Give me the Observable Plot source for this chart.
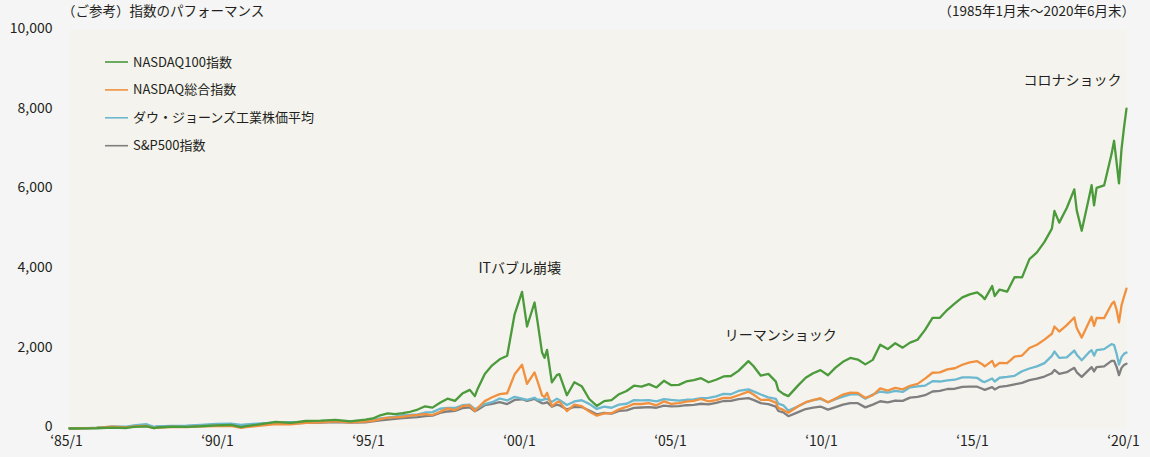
<!DOCTYPE html>
<html><head><meta charset="utf-8">
<script src="https://cdn.jsdelivr.net/npm/d3@7"></script>
<script src="https://cdn.jsdelivr.net/npm/@observablehq/plot@0.6"></script>
<style>
html,body{margin:0;padding:0;background:#f5f5f5;}
#chart{width:1150px;height:457px;}
svg{font-family:"Noto Sans CJK JP","Noto Sans",sans-serif;}
</style></head><body><div id="chart"></div>
<script>
const dates = ["1985-01","1985-06","1985-12","1986-06","1986-12","1987-03","1987-08","1987-11","1987-12","1988-06",
"1988-12","1989-06","1989-12","1990-06","1990-10","1990-12","1991-06","1991-12","1992-06","1992-12",
"1993-06","1993-12","1994-06","1994-12","1995-03","1995-06","1995-09","1995-12","1996-03","1996-06",
"1996-09","1996-12","1997-03","1997-06","1997-09","1997-12","1998-03","1998-06","1998-08","1998-09",
"1998-12","1999-03","1999-06","1999-09","1999-12","2000-03","2000-05","2000-08","2000-09","2000-11",
"2000-12","2001-01","2001-03","2001-05","2001-06","2001-09","2001-12","2002-03","2002-06","2002-09",
"2002-12","2003-03","2003-06","2003-09","2003-12","2004-03","2004-06","2004-09","2004-12","2005-03",
"2005-06","2005-09","2005-12","2006-03","2006-06","2006-09","2006-12","2007-03","2007-06","2007-10",
"2007-12","2008-03","2008-06","2008-09","2008-10","2008-12","2009-02","2009-06","2009-09","2009-12",
"2010-03","2010-06","2010-09","2010-12","2011-03","2011-06","2011-09","2011-12","2012-03","2012-06",
"2012-09","2012-12","2013-03","2013-06","2013-09","2013-12","2014-03","2014-06","2014-09","2014-12",
"2015-03","2015-06","2015-08","2015-09","2015-12","2016-01","2016-03","2016-06","2016-09","2016-12",
"2017-03","2017-06","2017-09","2017-12","2018-01","2018-03","2018-06","2018-09","2018-10","2018-12",
"2019-03","2019-04","2019-05","2019-06","2019-09","2019-12","2020-01","2020-02","2020-03","2020-04",
"2020-05","2020-06"];

const nasdaq100 = [0,3,6,20,13,40,52,12,25,44,
42,56,79,88,36,60,108,165,140,188,
196,219,180,223,252,332,380,361,388,420,
476,557,524,644,748,693,876,970,812,976,
1369,1585,1737,1826,2866,3430,2559,3162,2756,1905,
1773,1974,1158,1340,1364,834,1162,1062,741,566,
687,714,861,942,1074,1051,1113,1030,1197,1086,
1094,1181,1216,1262,1160,1223,1306,1318,1447,1691,
1568,1325,1370,1176,963,870,812,1082,1274,1388,
1466,1335,1528,1674,1770,1730,1609,1722,2104,1993,
2139,2029,2154,2228,2474,2774,2777,2979,3140,3289,
3367,3418,3319,3246,3574,3324,3487,3434,3800,3791,
4249,4418,4683,5017,5460,5166,5532,6002,5474,4963,
5802,6106,5602,6037,6100,6886,7220,6670,6150,7012,
7544,8026];

const nasdaqComp = [0,6,17,46,25,54,63,9,19,42,
37,56,63,66,18,34,70,110,102,143,
153,179,153,170,193,235,275,277,295,325,
340,363,338,417,505,463,559,580,438,508,
687,783,864,885,1360,1600,1120,1409,1218,832,
787,895,560,657,675,438,600,562,425,321,
379,381,482,541,619,615,635,581,680,617,
638,672,691,740,679,710,767,769,834,926,
852,718,723,651,518,466,394,558,661,714,
760,657,750,852,898,895,767,835,1009,953,
1018,984,1073,1121,1253,1399,1407,1482,1512,1599,
1659,1689,1614,1558,1697,1556,1647,1638,1806,1831,
2021,2103,2231,2377,2559,2434,2595,2787,2521,2281,
2673,2805,2574,2773,2770,3120,3183,2974,2663,3090,
3305,3509];

const dowJones = [0,4,20,47,47,79,107,43,51,66,
69,90,114,124,90,105,126,146,158,157,
173,192,182,198,223,254,272,298,334,339,
357,401,412,496,517,515,584,596,486,510,
613,661,753,703,793,749,718,772,728,709,
738,746,668,748,716,588,679,709,618,490,
548,521,598,621,712,705,711,683,738,716,
699,721,733,763,767,808,869,860,942,983,
931,853,782,743,625,582,449,556,655,710,
744,660,738,800,857,865,748,850,927,901,
944,918,1033,1059,1076,1188,1179,1208,1224,1285,
1281,1269,1184,1166,1254,1180,1274,1293,1323,1436,
1506,1559,1641,1821,1932,1773,1786,1956,1852,1713,
1915,1967,1828,1967,1992,2118,2096,1875,1603,1792,
1873,1906];

const sp500 = [0,7,18,40,35,62,84,28,38,52,
55,77,97,99,69,84,107,132,127,143,
151,160,147,156,179,203,225,243,259,273,
283,312,321,393,427,440,513,531,433,466,
584,616,664,614,718,734,691,745,700,632,
635,660,546,599,582,479,539,539,451,354,
390,372,443,454,519,527,535,521,575,557,
563,584,595,621,607,644,690,691,737,763,
717,636,613,549,439,403,309,412,488,521,
551,474,535,600,638,635,530,600,684,658,
702,694,774,794,836,929,942,991,998,1046,
1051,1049,998,969,1038,980,1047,1068,1107,1146,
1215,1249,1303,1388,1472,1370,1413,1522,1410,1296,
1478,1540,1432,1538,1557,1699,1696,1545,1339,1521,
1595,1626];

const seriesNames = ["NASDAQ100指数","NASDAQ総合指数","ダウ・ジョーンズ工業株価平均","S&P500指数"];
const seriesColors = ["#4b9a3b","#f1913f","#6bb8cf","#7f7f7f"];
const yTicks = [0,2000,4000,6000,8000,10000];
const xTickLabels = ["‘85/1","‘90/1","‘95/1","‘00/1","‘05/1","‘10/1","‘15/1","‘20/1"];
const titleText = "（ご参考）指数のパフォーマンス";
const periodText = "（1985年1月末～2020年6月末）";
const annotations = [
  {label:"ITバブル崩壊", date:"2000-02", value:4015, anchor:"middle"},
  {label:"リーマンショック", date:"2008-11", value:2334, anchor:"middle"},
  {label:"コロナショック", date:"2020-04", value:8733, anchor:"end"}
];

const parse = d3.utcParse("%Y-%m");
const allSeries = [nasdaq100, nasdaqComp, dowJones, sp500];
const tables = allSeries.map((vals, s) => vals.map((v, i) => ({date: parse(dates[i]), value: v, series: seriesNames[s]})));
const t0 = parse(dates[0]), t1 = parse(dates[dates.length - 1]);
const xTicks = xTickLabels.map((_, i) => new Date(+t0 + Math.round(i * (t1 - t0) / (xTickLabels.length - 1))));
const labelMap = new Map(xTicks.map((t, i) => [+t, xTickLabels[i]]));
const ann = annotations.map(a => ({...a, date: parse(a.date)}));

const lineMarks = [];
for (let s = allSeries.length - 1; s >= 0; s--) {
  lineMarks.push(Plot.line(tables[s], {x: "date", y: "value", stroke: seriesColors[s], strokeWidth: 2.3, strokeLinejoin: "round", strokeLinecap: "round"}));
}

const chart = Plot.plot({
  width: 1150, height: 457,
  marginLeft: 69, marginRight: 24, marginTop: 29.5, marginBottom: 29,
  style: {background: "transparent", fontFamily: '"Noto Sans CJK JP","Noto Sans",sans-serif', fontSize: "14px", color: "#231f20"},
  x: {type: "utc", domain: [t0, t1]},
  y: {domain: [0, 10000]},
  marks: [
    Plot.frame({fill: "#f4f3ed", stroke: "none"}),
    Plot.axisY({ticks: yTicks, tickSize: 0, tickPadding: 17, tickFormat: d3.format(","), label: null, fontSize: 14, dy: -1.5}),
    Plot.axisX({ticks: xTicks, tickSize: 0, tickPadding: 8, tickFormat: d => labelMap.get(+d), label: null, fontSize: 14, dx: -3}),
    ...lineMarks,
    Plot.text(ann.filter(a => a.anchor === "middle"), {x: "date", y: "value", text: "label", textAnchor: "middle", fontSize: 14, fill: "#231f20"}),
    Plot.text(ann.filter(a => a.anchor === "end"), {x: "date", y: "value", text: "label", textAnchor: "end", fontSize: 14, fill: "#231f20"})
  ]
});

const svg = d3.select(chart);
svg.append("text").attr("x", 62).attr("y", 15.5).attr("text-anchor", "start").attr("font-size", 13.5).attr("fill", "#231f20").text(titleText);
svg.append("text").attr("x", 1135).attr("y", 15.5).attr("text-anchor", "end").attr("font-size", 13.5).attr("fill", "#231f20").text(periodText);
const lg = svg.append("g").attr("text-anchor", "start");
seriesNames.forEach((name, i) => {
  const y = 62 + i * 27.9;
  lg.append("line").attr("x1", 105).attr("x2", 128).attr("y1", y).attr("y2", y).attr("stroke", seriesColors[i]).attr("stroke-width", 1.6);
  lg.append("text").attr("x", 133).attr("y", y).attr("dy", "0.35em").attr("text-anchor", "start").attr("font-size", 13).attr("fill", "#231f20").text(name);
});

document.getElementById("chart").appendChild(chart);
</script></body></html>
